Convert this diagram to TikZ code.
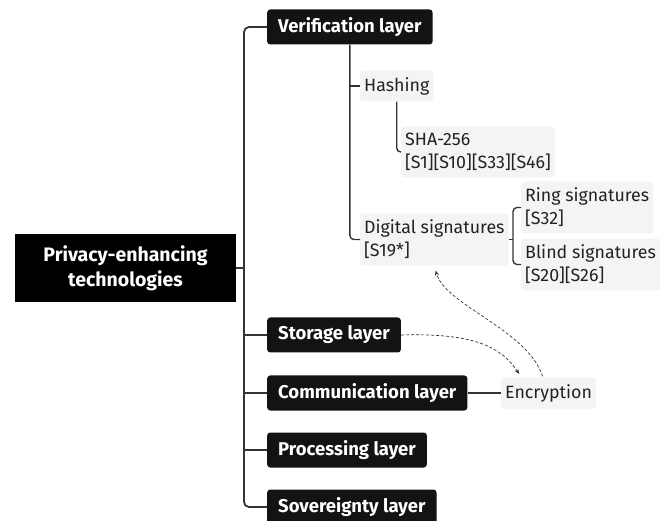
\documentclass[tikz,border=0pt]{standalone}
\usepackage{fontspec}
\setmainfont{Fira Sans}
\usetikzlibrary{arrows.meta,calc}
\definecolor{inkdark}{HTML}{131313}
\definecolor{leafgray}{HTML}{F4F4F4}
\definecolor{wire}{HTML}{333333}
\definecolor{leaftext}{HTML}{222222}
\tikzset{
  rootbox/.style={
    rectangle, fill=black, text=white, align=center,
    minimum width=221pt, minimum height=68pt,
    font=\bfseries\fontsize{19.5}{25}\selectfont
  },
  layerbox/.style={
    rectangle, rounded corners=3pt, fill=inkdark, text=white, anchor=west,
    inner xsep=11pt, minimum height=35pt,
    font=\bfseries\fontsize{18.5}{20}\selectfont
  },
  leaf/.style={
    rectangle, rounded corners=3pt, fill=leafgray, text=leaftext, anchor=west,
    inner xsep=4pt, inner ysep=6.5pt, minimum height=31pt, align=left,
    font=\fontsize{17.8}{23}\selectfont
  },
  trunk/.style={draw=wire, line width=1.8pt, rounded corners=5pt},
  twig/.style={draw=wire, line width=1.4pt, rounded corners=4pt},
  hint/.style={draw=wire, line width=0.7pt, dash pattern=on 3pt off 2pt,
    -{Stealth[length=5pt,width=4pt]}}
}

\begin{document}
\begin{tikzpicture}[x=1pt, y=-1pt]
  \useasboundingbox (0,0) rectangle (667,521);

  \node[rootbox] (root) at (125.5,268) {Privacy-enhancing\\technologies};

  % layers
  \node[layerbox] (ver)  at (267,27)  {Verification layer};
  \node[layerbox] (stor) at (267,335) {Storage layer};
  \node[layerbox] (comm) at (267,393) {Communication layer};
  \node[layerbox] (proc) at (267,450) {Processing layer};
  \node[layerbox] (sov)  at (267,507) {Sovereignty layer};

  % techniques
  \node[leaf] (hash)  at (360,86)    {Hashing};
  \node[leaf] (sha)   at (401,152)   {SHA-256\\{}[S1][S10][S33][S46]};
  \node[leaf] (dig)   at (360,239.5) {Digital signatures\\{}[S19*]};
  \node[leaf] (ring)  at (521,207.5) {Ring signatures\\{}[S32]};
  \node[leaf] (blind) at (521,264.5) {Blind signatures\\{}[S20][S26]};
  \node[leaf] (enc)   at (501,393)   {Encryption};

  \coordinate (spine) at (244,268);
  \coordinate (dsplit) at (513,239.5);

  % tree
  \draw[trunk] (ver.west) -| (spine) |- (sov.west);
  \draw[trunk] (root.east) -- (spine);
  \foreach \n in {stor,comm,proc}
    \draw[trunk] (spine |- \n.west) -- (\n.west);

  \draw[twig] (ver.south) |- (dig.west);
  \draw[twig] (ver.south |- hash.west) -- (hash.west);
  \draw[twig] (hash.south) |- (sha.west);
  \draw[twig] (dig.east) -- (dsplit);
  \draw[twig] (dsplit) |- (ring.west);
  \draw[twig] (dsplit) |- (blind.west);
  \draw[twig] (comm.east) -- (enc.west);

  % cross links
  \draw[hint, shorten >=4pt] (stor.east) .. controls (470,333) and (500,345) .. (enc.150);
  \draw[hint, shorten >=5pt, shorten <=1pt] (enc.110) .. controls (528,330) and (445,305) .. (dig.south);
\end{tikzpicture}
\end{document}
